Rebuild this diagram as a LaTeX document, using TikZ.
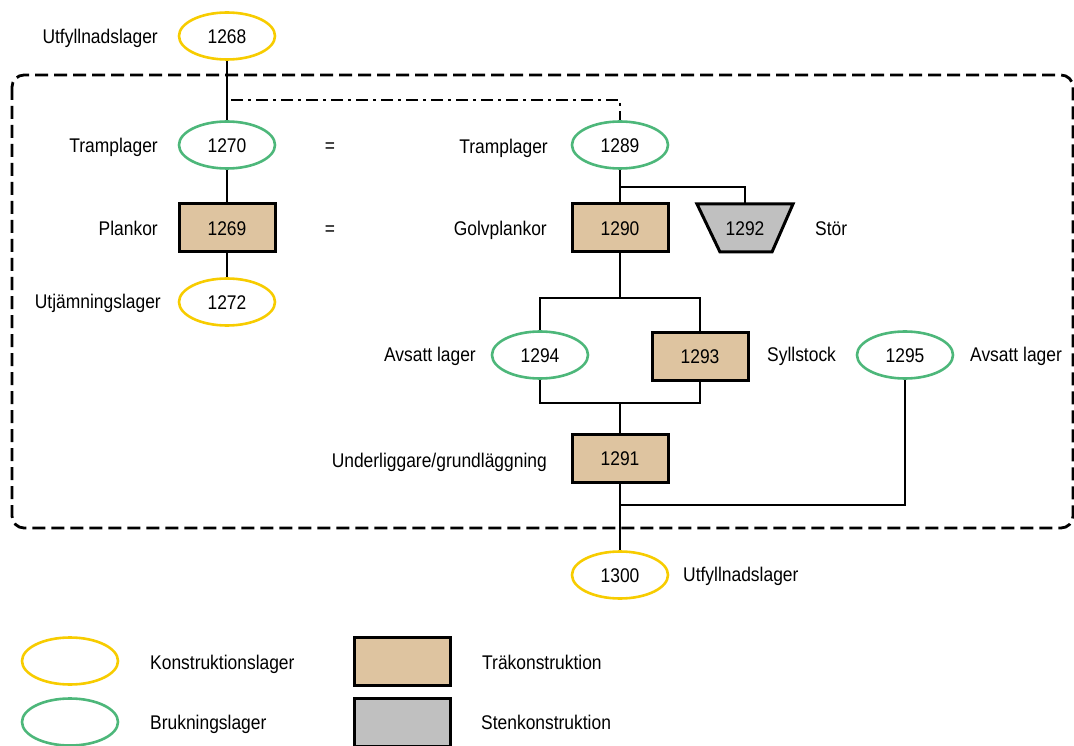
\documentclass[tikz,border=0pt]{standalone}
\usepackage{fontspec}
\setmainfont{Liberation Sans}[FakeStretch=0.88]
\usetikzlibrary{shapes.geometric}
\definecolor{ylw}{HTML}{F7CC00}
\definecolor{grn}{HTML}{4DB77A}
\definecolor{tanw}{HTML}{DEC4A0}
\definecolor{grays}{HTML}{C0C0C0}
\tikzset{
  txt/.style={inner sep=0pt, font=\fontsize{19.8}{22}\selectfont, text height=14.2pt, text depth=0pt},
  base/.style={txt, minimum width=96pt, minimum height=47pt, line width=2.6pt},
  kl/.style={base, ellipse, draw=ylw},
  bl/.style={base, ellipse, draw=grn},
  tra/.style={base, rectangle, draw=black, fill=tanw, line width=3pt, minimum height=48pt},
  stn/.style={base, rectangle, draw=black, fill=grays, line width=3pt, minimum height=48pt},
  conn/.style={line width=2.8pt},
  dd/.style={line width=2.8pt, dash pattern=on 12pt off 5pt on 3pt off 5pt},
  frame/.style={line width=2.8pt, dash pattern=on 13pt off 6pt, rounded corners=12pt},
}
\begin{document}
\begin{tikzpicture}[x=1pt,y=-1pt]
\useasboundingbox (0,0) rectangle (1074,746);
% frame
\draw[frame] (12,75) rectangle (1073,528);
% nodes
\node[kl] (n1268) at (227,36) {1268};
\node[bl] (n1270) at (227,145) {1270};
\node[tra] (n1269) at (227,228) {1269};
\node[kl] (n1272) at (227,302) {1272};
\node[bl] (n1289) at (620,145) {1289};
\node[tra] (n1290) at (620,228) {1290};
\fill[grays,draw=black,line width=3pt,line join=miter] (697,204) -- (793,204) -- (772,252) -- (720,252) -- cycle;
\node[txt] (n1292) at (745,228) {1292};
\coordinate (n1292top) at (745,204);
\node[bl] (n1294) at (540,355) {1294};
\node[tra] (n1293) at (700,356) {1293};
\node[bl] (n1295) at (905,355) {1295};
\node[tra] (n1291) at (620,458) {1291};
\node[kl] (n1300) at (620,575) {1300};
% labels
\node[txt,anchor=east] (l1) at (158,36) {Utfyllnadslager};
\node[txt,anchor=east] (l2) at (158,145) {Tramplager};
\node[txt] (eq1) at (330,145) {=};
\node[txt] (eq2) at (330,228) {=};
\node[txt,anchor=east] (l3) at (158,228) {Plankor};
\node[txt,anchor=east] (l4) at (161,301) {Utjämningslager};
\node[txt,anchor=east] (l5) at (548,146) {Tramplager};
\node[txt,anchor=east] (l6) at (547,228) {Golvplankor};
\node[txt,anchor=west] (l7) at (815,228) {Stör};
\node[txt,anchor=east] (l8) at (476,354) {Avsatt lager};
\node[txt,anchor=west] (l9) at (767,354) {Syllstock};
\node[txt,anchor=west] (l10) at (970,354) {Avsatt lager};
\node[txt,anchor=east] (l11) at (547,460) {Underliggare/grundläggning};
\node[txt,anchor=west] (l12) at (683,574) {Utfyllnadslager};
% connectors
\coordinate (dd0) at (231,100);
\coordinate (j1) at (620,187);
\coordinate (j2) at (620,298);
\coordinate (j3) at (620,403);
\coordinate (j4) at (620,505);
\draw[conn] (n1268) -- (n1270);
\draw[conn] (n1270) -- (n1269);
\draw[conn] (n1269) -- (n1272);
\draw[dd] (dd0) -| (n1289.north);
\draw[conn] (n1289) -- (n1290);
\draw[conn] (j1) -| (n1292top);
\draw[conn] (n1290.south) -- (j2);
\draw[conn] (n1294.north) |- (j2) -| (n1293.north);
\draw[conn] (n1294.south) |- (j3) -| (n1293.south);
\draw[conn] (j3) -- (n1291.north);
\draw[conn] (n1291.south) -- (n1300.north);
\draw[conn] (j4) -| (n1295.south);
% legend
\node[kl] (k1) at (70,661) {};
\node[bl] (k2) at (70,722) {};
\node[tra] (k3) at (402,661) {};
\node[stn] (k4) at (402,722) {};
\node[txt,anchor=west] (kl1) at (150,662) {Konstruktionslager};
\node[txt,anchor=west] (kl2) at (150,722) {Brukningslager};
\node[txt,anchor=west] (kl3) at (482,662) {Träkonstruktion};
\node[txt,anchor=west] (kl4) at (481,722) {Stenkonstruktion};
\end{tikzpicture}
\end{document}
